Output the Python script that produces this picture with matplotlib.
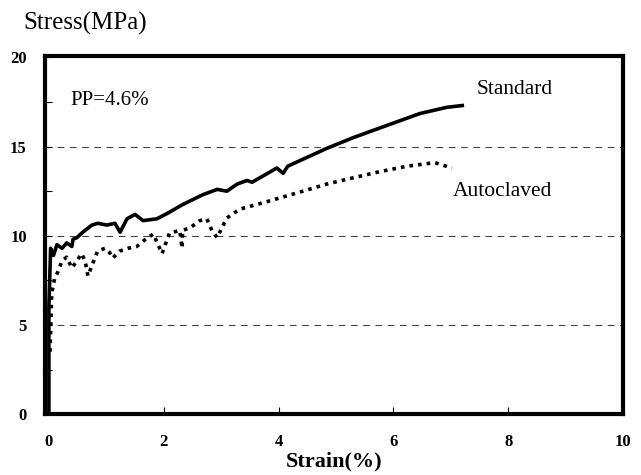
import matplotlib
matplotlib.use("Agg")
import matplotlib.pyplot as plt
from matplotlib.ticker import MultipleLocator

# Stress-strain curves
std_strain = [0.0, 0.0, 0.03, 0.08, 0.14, 0.23, 0.31, 0.40, 0.42, 0.49, 0.59, 0.75, 0.85,
              1.01, 1.15, 1.24, 1.36, 1.50, 1.64, 1.88, 2.06, 2.33, 2.68, 2.93, 3.10,
              3.28, 3.45, 3.54, 3.97, 4.08, 4.16, 4.50, 4.84, 5.30, 5.90, 6.46, 6.93, 7.20]
std_stress = [0.0, 6.0, 9.3, 8.9, 9.5, 9.3, 9.6, 9.4, 9.8, 9.9, 10.2, 10.6, 10.7,
              10.6, 10.7, 10.2, 10.95, 11.2, 10.85, 10.95, 11.25, 11.75, 12.3, 12.6, 12.5,
              12.9, 13.1, 13.0, 13.8, 13.5, 13.9, 14.4, 14.9, 15.5, 16.2, 16.85, 17.2, 17.3]

auto_strain = [0.02, 0.05, 0.10, 0.16, 0.23, 0.31, 0.40, 0.49, 0.57, 0.63, 0.68, 0.77,
               0.85, 0.98, 1.06, 1.11, 1.24, 1.38, 1.53, 1.70, 1.82, 1.97, 2.10, 2.28,
               2.32, 2.33, 2.46, 2.63, 2.75, 2.84, 2.93, 3.03, 3.10, 3.33, 3.73, 4.32,
               4.84, 5.30, 5.77, 6.24, 6.72, 7.02]
auto_stress = [3.5, 6.8, 7.6, 8.0, 8.6, 8.8, 8.2, 8.6, 9.0, 8.6, 7.75, 8.5,
               9.15, 9.3, 9.05, 8.75, 9.15, 9.3, 9.4, 9.85, 10.1, 9.0, 10.15, 10.3,
               9.3, 10.3, 10.45, 10.85, 10.95, 10.3, 9.9, 10.55, 11.0, 11.5, 11.85, 12.4,
               12.9, 13.25, 13.6, 13.9, 14.1, 13.8]

x_ticks = [0, 2, 4, 6, 8, 10]
y_ticks = [0, 5, 10, 15, 20]
grid_levels = [5, 10, 15]


def plot(output):
    plt.rcParams["font.family"] = "Liberation Serif"

    fig = plt.figure(figsize=(6.41, 4.75), dpi=100)
    ax = fig.add_axes([0.070, 0.128, 0.902, 0.755])

    for lvl in grid_levels:
        ax.axhline(lvl, color="#444444", lw=0.8, linestyle=(0, (6, 5)), zorder=1)

    ax.plot(std_strain, std_stress, color="black", lw=2.6, solid_joinstyle="round",
            zorder=3)
    ax.plot(auto_strain, auto_stress, color="black", lw=2.6,
            linestyle=(0, (1.0, 1.4)), zorder=3)

    ax.set_xlim(-0.07, 10)
    ax.set_ylim(0, 20.1)
    ax.set_xticks(x_ticks)
    ax.set_yticks(y_ticks)
    ax.yaxis.set_minor_locator(MultipleLocator(2.5))
    ax.tick_params(axis="both", which="both", direction="in", length=5, width=0.8)
    ax.tick_params(axis="x", pad=14)
    ax.tick_params(axis="y", pad=13)
    for label in ax.get_xticklabels() + ax.get_yticklabels():
        label.set_fontweight("bold")
        label.set_fontsize(12)

    for sp in ax.spines.values():
        sp.set_linewidth(3.0)

    ax.set_xlabel("Strain(%)", fontsize=16, fontweight="bold", labelpad=1)
    fig.text(0.036, 0.950, "Stress(MPa)", fontsize=18, ha="left", va="center")
    ax.text(0.38, 17.6, "PP=4.6%", fontsize=15, ha="left", va="center")
    ax.text(7.45, 18.2, "Standard", fontsize=15.5, ha="left", va="center")
    ax.text(7.03, 12.5, "Autoclaved", fontsize=15.5, ha="left", va="center")

    fig.savefig(output, dpi=100)


if __name__ == '__main__':
    plot("out.png")
